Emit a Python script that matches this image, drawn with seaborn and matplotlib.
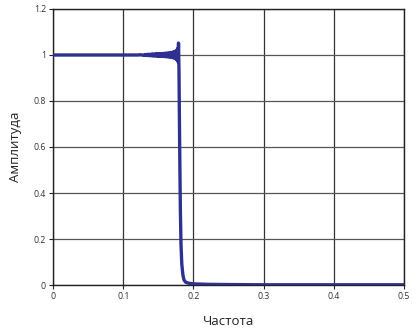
import matplotlib
matplotlib.use("Agg")
import matplotlib.pyplot as plt
import seaborn as sns
import pandas as pd

# Frequency response
freq = [0.000, 0.050, 0.100, 0.120, 0.125,
        0.130, 0.131, 0.132, 0.133, 0.134, 0.135, 0.136, 0.137, 0.138, 0.139,
        0.140, 0.141, 0.142, 0.143, 0.144, 0.145, 0.146, 0.147, 0.148, 0.149,
        0.150, 0.151, 0.152, 0.153, 0.154, 0.155, 0.156, 0.157, 0.158, 0.159,
        0.160, 0.161, 0.162, 0.163, 0.164, 0.165, 0.166, 0.167, 0.168, 0.169,
        0.170, 0.1707, 0.1714, 0.1721, 0.1728, 0.1735, 0.1742, 0.1749, 0.1756,
        0.1763, 0.1770, 0.1776, 0.1782, 0.1788,
        0.1795, 0.1800, 0.1808, 0.1815, 0.1823, 0.1835, 0.1850, 0.1866,
        0.1890, 0.1930, 0.2000, 0.2200, 0.2500, 0.3000, 0.4000, 0.5000]
amp = [1.000, 1.000, 1.000, 1.000, 1.001,
       0.998, 1.002, 0.998, 1.002, 0.998, 1.003, 0.997, 1.003, 0.997, 1.003,
       0.997, 1.004, 0.996, 1.004, 0.996, 1.004, 0.996, 1.005, 0.995, 1.005,
       0.995, 1.005, 0.995, 1.006, 0.994, 1.006, 0.994, 1.007, 0.993, 1.007,
       0.993, 1.008, 0.992, 1.008, 0.992, 1.009, 0.991, 1.010, 0.990, 1.011,
       0.989, 1.012, 0.988, 1.013, 0.987, 1.015, 0.985, 1.017, 0.982,
       1.021, 0.977, 1.028, 0.970, 1.052,
       0.930, 0.750, 0.500, 0.320, 0.180, 0.090, 0.045, 0.022,
       0.012, 0.008, 0.005, 0.003, 0.002, 0.001, 0.001, 0.001]

x_ticks = [0, 0.1, 0.2, 0.3, 0.4, 0.5]
x_tick_labels = ["0", "0.1", "0.2", "0.3", "0.4", "0.5"]
y_ticks = [0, 0.2, 0.4, 0.6, 0.8, 1.0, 1.2]
y_tick_labels = ["0", "0.2", "0.4", "0.6", "0.8", "1", "1.2"]

df = pd.DataFrame({"freq": freq, "amp": amp})

sns.set_style("white")
plt.rcParams["font.family"] = ["Open Sans", "DejaVu Sans"]

fig = plt.figure(figsize=(4.12, 3.29), dpi=100)
ax = fig.add_axes([0.1286, 0.1337, 0.852, 0.839])

sns.lineplot(data=df, x="freq", y="amp", ax=ax, color="#2e3192",
             linewidth=2.4, estimator=None, sort=False, zorder=3)

ax.set_xlim(0, 0.5)
ax.set_ylim(0, 1.2)
ax.set_xticks(x_ticks)
ax.set_xticklabels(x_tick_labels)
ax.set_yticks(y_ticks)
ax.set_yticklabels(y_tick_labels)
ax.grid(True, axis="x", color="#333333", linewidth=0.9)
ax.grid(True, axis="y", color="#555555", linewidth=0.9)
ax.set_axisbelow(True)
for s in ax.spines.values():
    s.set_color("#222222")
    s.set_linewidth(1.0)
ax.tick_params(axis="both", which="both", direction="out", length=3,
               width=0.8, colors="#222222", labelsize=6.3, labelcolor="#333333",
               bottom=True, left=True, pad=2)
ax.set_xlabel("Частота", fontsize=9.5, color="#222222", labelpad=10)
ax.set_ylabel("Амплитуда", fontsize=9.5, color="#222222", labelpad=8)

fig.savefig("out.png", dpi=100)
